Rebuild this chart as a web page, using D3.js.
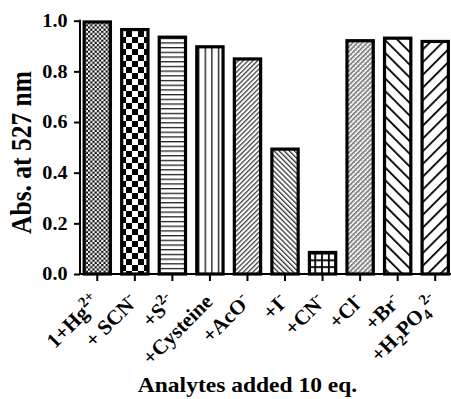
<!DOCTYPE html>
<html>
<head>
<meta charset="utf-8">
<script src="https://cdn.jsdelivr.net/npm/d3@7"></script>
<style>
  html, body { margin: 0; padding: 0; background: #fff; }
  svg { display: block; }
  text { font-family: "Liberation Serif", "Times New Roman", Times, serif; font-weight: bold; fill: #000; }
</style>
</head>
<body>
<svg id="chart" width="451" height="399"></svg>
<script>
// ---- data ----
const categories = ["1+Hg2+", "+ SCN-", "+S2-", "+Cysteine", "+AcO-", "+I-", "+CN-", "+Cl-", "+Br-", "+H2PO4 2-"];
// label pieces: [text, "" | "sup" | "sub"]
const labelParts = [
  [["1+Hg", ""], ["2+", "sup"]],
  [["+ SCN", ""], ["-", "sup"]],
  [["+S", ""], ["2-", "sup"]],
  [["+Cysteine", ""]],
  [["+AcO", ""], ["-", "sup"]],
  [["+I", ""], ["-", "sup"]],
  [["+CN", ""], ["-", "sup"]],
  [["+Cl", ""], ["-", "sup"]],
  [["+Br", ""], ["-", "sup"]],
  [["+H", ""], ["2", "sub"], ["PO", ""], ["4", "sub"], ["2-", "sup"]]
];
const values = [0.995, 0.965, 0.935, 0.897, 0.849, 0.493, 0.085, 0.921, 0.931, 0.918];
const yTicks = [0.0, 0.2, 0.4, 0.6, 0.8, 1.0];
const yTitle = "Abs. at 527 nm";
const xTitle = "Analytes added 10 eq.";

// ---- layout ----
const svg = d3.select("#chart");
const SX = 1.12; // horizontal stretch of the original picture's text
const x = d3.scaleBand().domain(categories).range([78.5, 454]).paddingInner(0.3).paddingOuter(0.15);
const y = d3.scaleLinear().domain([0, 1]).range([274, 20.7]);

// ---- patterns ----
const defs = svg.append("defs");
function hatch(id, period, width, angle, color, extra) {
  const p = defs.append("pattern").attr("id", id).attr("patternUnits", "userSpaceOnUse")
    .attr("width", period).attr("height", period)
    .attr("patternTransform", `rotate(${angle})`);
  p.append("rect").attr("width", period).attr("height", period).attr("fill", "#fff");
  p.append("rect").attr("x", 0).attr("y", 0).attr("width", width).attr("height", period).attr("fill", color);
  if (extra) extra(p);
  return p;
}
// 1 fine checker
{
  const p = defs.append("pattern").attr("id", "p0").attr("patternUnits", "userSpaceOnUse").attr("width", 4.4).attr("height", 4.4);
  p.append("rect").attr("width", 4.4).attr("height", 4.4).attr("fill", "#fff");
  p.append("rect").attr("width", 2.2).attr("height", 2.2).attr("fill", "#111");
  p.append("rect").attr("x", 2.2).attr("y", 2.2).attr("width", 2.2).attr("height", 2.2).attr("fill", "#111");
}
// 2 big checker
{
  const p = defs.append("pattern").attr("id", "p1").attr("patternUnits", "userSpaceOnUse").attr("width", 12).attr("height", 12)
    .attr("x", 0).attr("y", 1);
  p.append("rect").attr("width", 12).attr("height", 12).attr("fill", "#fff");
  p.append("rect").attr("width", 6).attr("height", 6).attr("fill", "#000");
  p.append("rect").attr("x", 6).attr("y", 6).attr("width", 6).attr("height", 6).attr("fill", "#000");
}
// 3 horizontal lines
hatch("p2", 4.7, 1.3, 90, "#222");
// 4 vertical lines
hatch("p3", 6.6, 1.4, 0, "#222");
// 5 fine "/"
hatch("p4", 3.4, 1.3, 45, "#444");
// 6 fine "\"
hatch("p5", 3.6, 1.3, -45, "#333");
// 7 grid
{
  const s = 6.8, w = 1.8;
  const p = defs.append("pattern").attr("id", "p6").attr("patternUnits", "userSpaceOnUse").attr("width", s).attr("height", s)
    .attr("x", 1.5).attr("y", 1);
  p.append("rect").attr("width", s).attr("height", s).attr("fill", "#fff");
  p.append("rect").attr("width", w).attr("height", s).attr("fill", "#000");
  p.append("rect").attr("width", s).attr("height", w).attr("fill", "#000");
}
// 8 gray texture
hatch("p7", 3.4, 1.5, 45, "#777", p => {
  p.append("rect").attr("x", 1.7).attr("y", 0).attr("width", 0.7).attr("height", 1.7).attr("fill", "#aaa");
});
// 9 wide "\"
hatch("p8", 9, 1.8, -45, "#000");
// 10 wide "/"
hatch("p9", 9, 1.8, 45, "#000");

// ---- bars ----
svg.append("g").selectAll("rect").data(categories).join("rect")
  .attr("x", d => x(d))
  .attr("y", (d, i) => y(values[i]))
  .attr("width", x.bandwidth())
  .attr("height", (d, i) => y(0) - y(values[i]))
  .attr("fill", (d, i) => `url(#p${i})`)
  .attr("stroke", "#000")
  .attr("stroke-width", 3.2);

// ---- y axis ----
const yAxis = svg.append("g").attr("transform", "translate(80,0)")
  .call(d3.axisLeft(y).tickValues(yTicks).tickFormat(d3.format(".1f")).tickSize(6).tickPadding(6).tickSizeOuter(0));
yAxis.select(".domain").attr("stroke-width", 2).attr("d", `M0,${y(0)}V${y(1) - 1}`);
yAxis.selectAll(".tick line").attr("stroke-width", 2);
yAxis.selectAll(".tick text")
  .attr("font-size", 18)
  .attr("x", null).attr("dy", "0.33em")
  .attr("transform", `translate(-12.5,0) scale(${SX},1)`);

// ---- x axis ----
const xAxis = svg.append("g").attr("transform", `translate(0,${y(0)})`)
  .call(d3.axisBottom(x).tickSize(7).tickSizeOuter(0).tickFormat(""));
xAxis.select(".domain").attr("stroke-width", 2).attr("d", "M79,0H451");
xAxis.selectAll(".tick line").attr("stroke-width", 2);

// category labels
const LF = 21, SF = 15;
const labs = svg.append("g").selectAll("text").data(categories).join("text")
  .attr("text-anchor", "end")
  .attr("font-size", LF)
  .attr("transform", d => `translate(${x(d) + x.bandwidth() / 2 + 4},303) rotate(-45)`);
labs.each(function (d, i) {
  const t = d3.select(this);
  let shift = 0;
  labelParts[i].forEach(([txt, kind]) => {
    const target = kind === "sup" ? -8.5 : kind === "sub" ? 5 : 0;
    t.append("tspan")
      .attr("dy", target - shift)
      .attr("font-size", kind ? SF : LF)
      .text(txt);
    shift = target;
  });
});

// ---- titles ----
svg.append("text")
  .attr("text-anchor", "middle")
  .attr("font-size", 25.5)
  .attr("transform", `translate(31,152.5) scale(${SX},1) rotate(-90)`)
  .text(yTitle);

svg.append("text")
  .attr("text-anchor", "middle")
  .attr("font-size", 21)
  .attr("transform", `translate(247.5,392) scale(${SX},1)`)
  .text(xTitle);
</script>
</body>
</html>
